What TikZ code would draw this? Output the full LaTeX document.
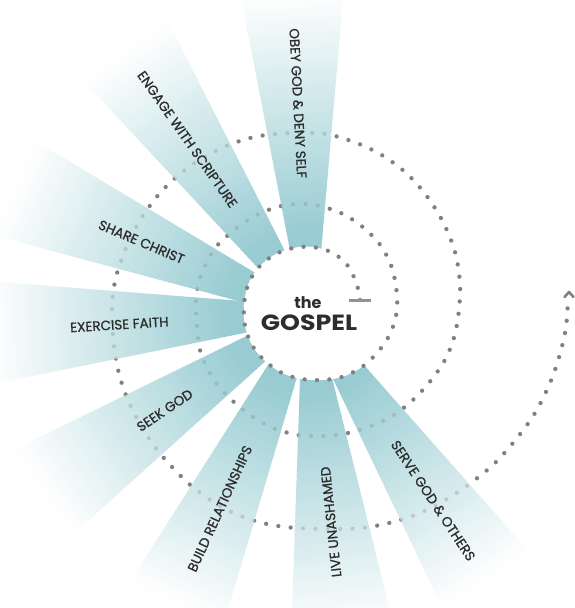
\documentclass[tikz,border=0pt]{standalone}
\usepackage{fontspec}
\setmainfont{Poppins}
\newfontfamily\lblfont{Poppins}[FakeBold=0.9]
\definecolor{raycol}{RGB}{152,204,210}
\definecolor{dotcol}{RGB}{128,128,128}
\definecolor{txtcol}{RGB}{45,45,45}
\newcommand\drawray[1]{%
  \begin{scope}[shift={(309,313)}, rotate=#1]
    \foreach \i in {0,...,55}{%
      \pgfmathsetmacro\ra{60+5*\i}%
      \pgfmathsetmacro\rb{\ra+6}%
      \pgfmathsetmacro\ha{16+0.14*(\ra-66)}%
      \pgfmathsetmacro\hb{16+0.14*(\rb-66)}%
      \pgfmathsetmacro\pc{max(0,min(100,100*(1-(\ra+2.5-80)/240)))}%
      \fill[raycol!\pc!white] (\ra,-\ha) -- (\rb,-\hb) -- (\rb,\hb) -- (\ra,\ha) -- cycle;
    }
  \end{scope}}
\tikzset{
  spiral/.style={insert path={plot[smooth,tension=0.55] coordinates{
    (360,300) (357,285) (348,266) (333,253) (313,247) (293,248) (274,255) (258,268) (248,285) (244,305)
    (245,326) (252,345) (264,360) (282,373) (302,379) (322,380) (342,377) (362,367) (377,353) (389,336)
    (396,316) (397,295) (392,268) (381,246) (364,228) (343,214) (320,206) (300,204) (277,207) (253,217)
    (233,231) (215,248) (205,266) (198,285) (196,305) (197,327) (200,350) (208,370) (220,388) (235,403)
    (253,417) (273,428) (298,435) (324,436) (348,433) (371,426) (394,415) (415,398) (432,379) (446,358)
    (455,334) (459,309) (460,283) (455,252) (443,222) (426,195) (405,172) (380,154) (354,142) (326,134)
    (300,133) (275,134) (250,138) (224,147) (196,162) (173,180) (155,199) (139,222) (126,248) (116,277)
    (112,305) (113,337) (117,365) (124,390) (135,415) (148,437) (163,457) (188,483) (212,501) (238,515)
    (267,524) (296,528) (330,529) (362,528) (393,522) (420,513) (447,499) (472,482) (495,463) (517,438)
    (535,413) (550,383) (560,354) (566,327) (568,300)}}},
  dotline/.style={draw=dotcol, line width=4.2pt, line cap=round, dash pattern=on 0pt off 12.4pt},
  lbl/.style={transform shape, text=txtcol, font=\lblfont\fontsize{13.5}{13.5}\selectfont, inner sep=0pt},
}
\begin{document}
\begin{tikzpicture}[x=1pt,y=-1pt]
\useasboundingbox (0,0) rectangle (575,608);
\fill[white] (0,0) rectangle (575,608);
\begin{scope}
  \clip (0,0) rectangle (575,608);
  \drawray{93}\drawray{125}\drawray{157}\drawray{183.5}
  \drawray{214}\drawray{245.5}\drawray{276}\drawray{303.5}
  % white centre bounded by the first turn of the spiral
  \fill[white] plot[smooth,tension=0.55] coordinates{
    (360,300) (357,285) (348,266) (333,253) (313,247) (293,248) (274,255) (258,268) (248,285) (244,305)
    (245,326) (252,345) (264,360) (282,373) (302,379) (322,380) (342,377) (362,367) (377,353) (389,336)
    (396,316)} -- cycle;
  % faint dots under the rays
  \draw[dotline, draw opacity=0.3, spiral];
  % full dots outside the rays
  \begin{scope}
    \clip (0,0) -- (575,0) -- (575,608) -- (0,608) -- cycle
      \foreach \p in {93,125,157,183.5,214,245.5,276,303.5}{
        ({309+82*cos(\p)+18.24*sin(\p)}, {313-82*sin(\p)+18.24*cos(\p)})
        -- ({309+360*cos(\p)+57.2*sin(\p)}, {313-360*sin(\p)+57.2*cos(\p)})
        -- ({309+360*cos(\p)-57.2*sin(\p)}, {313-360*sin(\p)-57.2*cos(\p)})
        -- ({309+82*cos(\p)-18.24*sin(\p)}, {313-82*sin(\p)-18.24*cos(\p)}) -- cycle};
    \draw[dotline, spiral];
  \end{scope}
\end{scope}
% tail bar and arrow head of the spiral
\draw[dotcol!85, line width=3pt] (349,300) -- (371,300);
\draw[dotcol, line width=2.6pt, line cap=round, line join=round] (564.5,297) -- (569,292) -- (573.5,297);
% centre text
\node[anchor=base, text=txtcol, font=\bfseries\fontsize{16}{16}\selectfont, inner sep=0pt] (the) at (308,308) {the};
\node[anchor=base, text=txtcol, font=\bfseries\fontsize{22}{22}\selectfont, inner sep=0pt, xscale=1.15] (gospel) at (309,330) {GOSPEL};
% labels
\begin{scope}[shift={(309,313)},rotate=93]\node[lbl,rotate=180] (obey) at (210,0) {OBEY GOD \& DENY SELF};\end{scope}
\begin{scope}[shift={(309,313)},rotate=125]\node[lbl,rotate=180] (engage) at (212,0) {ENGAGE WITH SCRIPTURE};\end{scope}
\begin{scope}[shift={(309,313)},rotate=157]\node[lbl,rotate=180] (share) at (182,0) {SHARE CHRIST};\end{scope}
\begin{scope}[shift={(309,313)},rotate=183.5]\node[lbl,rotate=180] (faith) at (190,0) {EXERCISE FAITH};\end{scope}
\begin{scope}[shift={(309,313)},rotate=214]\node[lbl,rotate=180] (seek) at (174,0) {SEEK GOD};\end{scope}
\begin{scope}[shift={(309,313)},rotate=245.5]\node[lbl,rotate=180] (build) at (215,0) {BUILD RELATIONSHIPS};\end{scope}
\begin{scope}[shift={(309,313)},rotate=276]\node[lbl,rotate=180] (live) at (210,0) {LIVE UNASHAMED};\end{scope}
\begin{scope}[shift={(309,313)},rotate=303.5]\node[lbl] (serve) at (225,0) {SERVE GOD \& OTHERS};\end{scope}
\end{tikzpicture}
\end{document}
